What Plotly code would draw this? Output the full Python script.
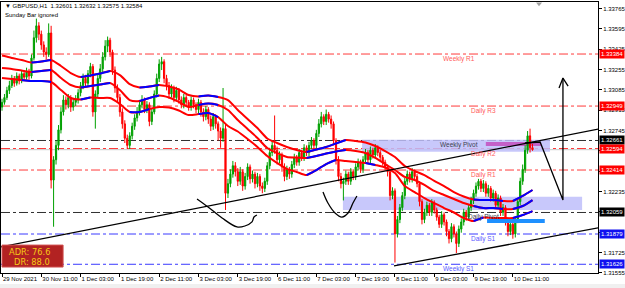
import plotly.graph_objects as go

# ---------------- DATA ----------------
# H1 bars, bar 0 = 29 Nov 2021 19:00; prices in 1/10000 units
opens = [
    13294, 13298, 13302, 13308, 13312, 13318, 13314, 13320, 13316, 13322,
    13319, 13324, 13320, 13335, 13352, 13362, 13355, 13346, 13340, 13338,
    13356, 13233, 13250, 13262, 13275, 13290, 13300, 13296, 13302, 13294,
    13298, 13300, 13306, 13312, 13318, 13314, 13322, 13328, 13290, 13305,
    13318, 13326, 13336, 13345, 13350, 13340, 13325, 13310, 13302, 13290,
    13280, 13268, 13262, 13270, 13278, 13285, 13290, 13296, 13300, 13292,
    13296, 13282, 13290, 13305, 13318, 13330, 13332, 13318, 13312, 13305,
    13310, 13302, 13308, 13300, 13296, 13302, 13298, 13294, 13300, 13296,
    13292, 13298, 13290, 13286, 13292, 13284, 13278, 13286, 13280, 13274,
    13268, 13276, 13222, 13230, 13238, 13245, 13240, 13232, 13240, 13228,
    13236, 13244, 13234, 13238, 13230, 13236, 13228, 13226, 13232, 13245,
    13256, 13262, 13258, 13250, 13254, 13244, 13236, 13242, 13238, 13246,
    13252, 13248, 13256, 13252, 13260, 13256, 13262, 13266, 13262, 13272,
    13280, 13286, 13282, 13288, 13284, 13280, 13266, 13250, 13236, 13230,
    13232, 13238, 13232, 13240, 13236, 13244, 13248, 13242, 13250, 13256,
    13250, 13258, 13254, 13260, 13256, 13252, 13248, 13244, 13240, 13220,
    13224, 13188, 13200, 13210, 13220, 13232, 13238, 13234, 13240, 13236,
    13230, 13215, 13200, 13206, 13212, 13206, 13214, 13208, 13202, 13196,
    13204, 13198, 13190, 13184, 13194, 13188, 13180, 13192, 13198, 13206,
    13202, 13210, 13216, 13222, 13228, 13232, 13226, 13230, 13222, 13226,
    13218, 13222, 13212, 13218, 13206, 13210, 13198, 13190, 13196, 13188,
    13200, 13215, 13232, 13242, 13258, 13270, 13260.1,
]
highs = [
    13301, 13305, 13311, 13316, 13321, 13320, 13323, 13322, 13325, 13324,
    13327, 13326, 13338, 13358, 13368, 13365, 13358, 13349, 13344, 13364,
    13362, 13253, 13266, 13279, 13294, 13304, 13303, 13305, 13304, 13301,
    13304, 13309, 13315, 13322, 13321, 13325, 13331, 13330, 13308, 13322,
    13330, 13340, 13350, 13353, 13352, 13342, 13328, 13313, 13305, 13293,
    13283, 13271, 13273, 13281, 13288, 13294, 13300, 13304, 13302, 13299,
    13298, 13293, 13308, 13322, 13334, 13336, 13334, 13321, 13315, 13313,
    13312, 13311, 13310, 13303, 13305, 13304, 13300, 13303, 13302, 13298,
    13301, 13300, 13293, 13295, 13294, 13287, 13289, 13288, 13282, 13277,
    13310, 13280, 13234, 13242, 13249, 13248, 13243, 13244, 13242, 13239,
    13247, 13246, 13241, 13240, 13239, 13238, 13231, 13235, 13248, 13260,
    13266, 13287, 13261, 13257, 13256, 13247, 13245, 13244, 13249, 13255,
    13254, 13259, 13258, 13263, 13262, 13265, 13269, 13268, 13275, 13284,
    13290, 13288, 13292, 13290, 13287, 13282, 13268, 13253, 13239, 13235,
    13241, 13240, 13243, 13242, 13247, 13251, 13250, 13253, 13259, 13258,
    13261, 13260, 13263, 13262, 13258, 13254, 13250, 13246, 13242, 13227,
    13226, 13203, 13213, 13223, 13235, 13241, 13240, 13243, 13242, 13238,
    13232, 13217, 13209, 13215, 13214, 13217, 13216, 13210, 13204, 13207,
    13206, 13200, 13192, 13197, 13196, 13190, 13195, 13201, 13209, 13208,
    13213, 13219, 13225, 13231, 13234, 13234, 13233, 13232, 13229, 13228,
    13225, 13224, 13221, 13220, 13213, 13212, 13200, 13199, 13198, 13203,
    13218, 13235, 13246, 13262, 13274, 13276, 13263.2,
]
lows = [
    13291, 13296, 13300, 13305, 13310, 13311, 13312, 13313, 13314, 13316,
    13317, 13317, 13318, 13333, 13348, 13350, 13342, 13336, 13334, 13336,
    13226, 13194, 13246, 13258, 13272, 13287, 13292, 13293, 13290, 13291,
    13295, 13297, 13303, 13309, 13311, 13311, 13319, 13286, 13276, 13302,
    13315, 13323, 13333, 13340, 13336, 13321, 13306, 13298, 13286, 13276,
    13264, 13259, 13259, 13267, 13275, 13282, 13287, 13293, 13289, 13289,
    13278, 13279, 13288, 13302, 13315, 13325, 13314, 13308, 13301, 13302,
    13298, 13299, 13297, 13293, 13293, 13295, 13291, 13291, 13293, 13289,
    13289, 13286, 13282, 13283, 13280, 13274, 13275, 13276, 13266, 13260,
    13265, 13208, 13218, 13227, 13235, 13236, 13228, 13229, 13224, 13225,
    13233, 13230, 13231, 13226, 13227, 13224, 13222, 13223, 13229, 13242,
    13253, 13255, 13246, 13247, 13240, 13232, 13233, 13234, 13235, 13243,
    13245, 13245, 13249, 13249, 13253, 13253, 13259, 13259, 13259, 13269,
    13277, 13279, 13279, 13281, 13276, 13262, 13246, 13232, 13226, 13216,
    13229, 13229, 13229, 13233, 13233, 13241, 13239, 13239, 13247, 13247,
    13247, 13251, 13251, 13253, 13249, 13245, 13241, 13236, 13216, 13217,
    13164, 13185, 13197, 13207, 13217, 13229, 13231, 13231, 13233, 13227,
    13211, 13196, 13197, 13203, 13203, 13203, 13205, 13199, 13193, 13193,
    13195, 13186, 13180, 13181, 13185, 13172, 13177, 13189, 13195, 13199,
    13199, 13207, 13213, 13219, 13225, 13223, 13223, 13219, 13219, 13215,
    13215, 13209, 13209, 13203, 13203, 13195, 13186, 13187, 13184, 13185,
    13197, 13212, 13229, 13239, 13255, 13256, 13257.5,
]
closes = [
    13298, 13302, 13308, 13312, 13318, 13314, 13320, 13316, 13322, 13319,
    13324, 13320, 13335, 13352, 13362, 13355, 13346, 13340, 13338, 13356,
    13233, 13250, 13262, 13275, 13290, 13300, 13296, 13302, 13294, 13298,
    13300, 13306, 13312, 13318, 13314, 13322, 13328, 13290, 13305, 13318,
    13326, 13336, 13345, 13350, 13340, 13325, 13310, 13302, 13290, 13280,
    13268, 13262, 13270, 13278, 13285, 13290, 13296, 13300, 13292, 13296,
    13282, 13290, 13305, 13318, 13330, 13332, 13318, 13312, 13305, 13310,
    13302, 13308, 13300, 13296, 13302, 13298, 13294, 13300, 13296, 13292,
    13298, 13290, 13286, 13292, 13284, 13278, 13286, 13280, 13274, 13268,
    13276, 13222, 13230, 13238, 13245, 13240, 13232, 13240, 13228, 13236,
    13244, 13234, 13238, 13230, 13236, 13228, 13226, 13232, 13245, 13256,
    13262, 13258, 13250, 13254, 13244, 13236, 13242, 13238, 13246, 13252,
    13248, 13256, 13252, 13260, 13256, 13262, 13266, 13262, 13272, 13280,
    13286, 13282, 13288, 13284, 13280, 13266, 13250, 13236, 13230, 13232,
    13238, 13232, 13240, 13236, 13244, 13248, 13242, 13250, 13256, 13250,
    13258, 13254, 13260, 13256, 13252, 13248, 13244, 13240, 13220, 13224,
    13188, 13200, 13210, 13220, 13232, 13238, 13234, 13240, 13236, 13230,
    13215, 13200, 13206, 13212, 13206, 13214, 13208, 13202, 13196, 13204,
    13198, 13190, 13184, 13194, 13188, 13180, 13192, 13198, 13206, 13202,
    13210, 13216, 13222, 13228, 13232, 13226, 13230, 13222, 13226, 13218,
    13222, 13212, 13218, 13206, 13210, 13198, 13190, 13196, 13188, 13200,
    13215, 13232, 13242, 13258, 13270, 13260.1, 13258.4,
]

# moving-average envelope lines, sampled every 4 bars (1/10000 units)
ma_step = 4
ma_top = [
    13337.1, 13335.1, 13333.4, 13331.3, 13332.1, 13333.4, 13328.4, 13322.5, 13319.2, 13320.4,
    13322.1, 13324.2, 13320.8, 13313.3, 13310.4, 13311.2, 13312.5, 13311.2, 13308.7, 13304.1,
    13302.9, 13303.7, 13302.5, 13299.9, 13291.6, 13284.1, 13276.5, 13267.8, 13264.0, 13260.7,
    13258.1, 13256.5, 13258.6, 13260.7, 13263.6, 13266.5, 13265.7, 13264.4, 13261.5, 13257.3,
    13252.3, 13244.8, 13240.6, 13237.2, 13232.3, 13228.0, 13223.0, 13219.3, 13216.8, 13216.3,
    13216.3, 13215.5, 13215.5, 13219.7, 13224.7,
]
ma_mid = [
    13326.7, 13325.9, 13324.6, 13323.4, 13324.2, 13325.0, 13318.3, 13312.5, 13310.4, 13311.6,
    13312.9, 13314.2, 13308.3, 13299.9, 13299.1, 13301.6, 13303.7, 13302.0, 13298.3, 13294.1,
    13295.8, 13297.0, 13295.8, 13291.6, 13283.2, 13275.7, 13268.2, 13259.8, 13255.6, 13252.3,
    13251.9, 13251.5, 13253.1, 13255.2, 13256.9, 13258.1, 13257.3, 13255.6, 13251.5, 13246.4,
    13241.4, 13235.6, 13233.1, 13228.9, 13223.9, 13220.5, 13217.2, 13213.8, 13211.3, 13209.6,
    13209.6, 13208.8, 13208.8, 13211.3, 13216.3,
]
ma_bot = [
    13318.3, 13317.5, 13316.7, 13315.8, 13315.8, 13315.0, 13308.3, 13301.6, 13300.4, 13302.0,
    13301.6, 13301.6, 13296.6, 13289.9, 13289.9, 13292.4, 13294.1, 13293.7, 13291.2, 13287.4,
    13288.2, 13289.1, 13285.7, 13278.2, 13273.6, 13267.3, 13260.7, 13253.1, 13247.3, 13242.3,
    13239.8, 13237.2, 13241.4, 13246.4, 13249.8, 13248.9, 13248.1, 13247.3, 13245.6, 13243.5,
    13238.9, 13228.0, 13223.0, 13218.0, 13213.8, 13209.6, 13205.9, 13201.3, 13198.8, 13201.7,
    13201.3, 13201.3, 13201.3, 13203.8, 13207.1,
]
# bar ranges where each line is rising (drawn blue)
top_rising = [(12, 20), (32, 44), (56, 64), (80, 88), (124, 140), (192, 204), (208, 216)]
mid_rising = [(12, 20), (32, 44), (56, 64), (80, 88), (124, 140), (192, 204), (208, 216)]
bot_rising = [(8, 20), (32, 36), (52, 60), (80, 88), (124, 136), (148, 152), (192, 196), (208, 216)]

# pivot levels
levels = [1.33384, 1.32949, 1.32661, 1.32594, 1.32414, 1.32059, 1.31879, 1.31626]
level_names = ["Weekly R1", "Daily R3", "Weekly Pivot", "Daily R2", "Daily R1",
               "Daily Pivot", "Daily S1", "Weekly S1"]
level_kind = ["R", "R", "P", "R", "R", "P", "S", "S"]
bid_price = 1.32584

x_tick_bars = [0, 16, 32, 48, 64, 80, 96, 112, 128, 144, 160, 176, 192, 208]
x_tick_labels = ["29 Nov 2021", "30 Nov 11:00", "1 Dec 03:00", "1 Dec 19:00", "2 Dec 11:00",
                 "3 Dec 03:00", "3 Dec 19:00", "6 Dec 11:00", "7 Dec 03:00", "7 Dec 19:00",
                 "8 Dec 11:00", "9 Dec 03:00", "9 Dec 19:00", "10 Dec 11:00"]
y_ticks = [1.33765, 1.33595, 1.33425, 1.33255, 1.33085, 1.32915, 1.32745, 1.32575,
           1.32405, 1.32235, 1.32065, 1.31895, 1.31725, 1.31555]

# user drawings (bar index, price)
trend_up_bars = [-1, 243]
trend_up_prices = [1.31769, 1.32758]
trend_low_bars = [159.6, 243]
trend_low_prices = [1.31612, 1.31932]
arc1_bars = [79.4, 83.9, 89.6, 95.7, 98.9, 101.8, 102.6, 103.8]
arc1_prices = [1.32172, 1.32105, 1.32013, 1.31938, 1.31946, 1.31980, 1.32021, 1.32038]
arc2_bars = [130.7, 132.7, 135.6, 138.4, 140.9, 142.9, 144.5]
arc2_prices = [1.32230, 1.32138, 1.32055, 1.32021, 1.32055, 1.32138, 1.32197]
path_bars = [212.9, 219.1, 228.4, 228.4]
path_prices = [1.32640, 1.32648, 1.32163, 1.33183]
head_bars = [226.8, 228.4, 230.5]
head_prices = [1.33100, 1.33183, 1.33116]
zone_upper = (146.6, 223.1, 1.32567, 1.32668)
zone_lower = (138.8, 236.2, 1.32080, 1.32191)
zone_magenta = (197.0, 219.5, 1.32615, 1.32648)
zone_blue = (197.5, 221.0, 1.31971, 1.32005)

adr_text = "ADR: 76.6"
dr_text = "DR: 88.0"
title_text = "\u25BC GBPUSD,H1  1.32601 1.32632 1.32575 1.32584"
subtitle_text = "Sunday Bar ignored"

# ---------------- FIGURE ----------------
SC = 10000.0
FONT = "Liberation Sans, Arial, sans-serif"
bars = list(range(len(closes)))
ma_bars = [i * ma_step for i in range(len(ma_top))]

fig = go.Figure()

shapes = []
for (x0, x1, y0, y1), col in [(zone_upper, "rgba(190,190,250,0.85)"),
                              (zone_lower, "rgba(190,190,250,0.85)"),
                              (zone_magenta, "rgb(196,96,200)")]:
    shapes.append(dict(type="rect", xref="x", yref="y", x0=x0, x1=x1, y0=y0, y1=y1,
                       fillcolor=col, line=dict(width=0), layer="below"))

kind_color = {"R": "#FF3A3A", "P": "#303030", "S": "#3A3AFF"}
label_color = {"R": "#FF5A5A", "P": "#404050", "S": "#5A5AFF"}
box_color = {"R": "#FF0000", "P": "#000000", "S": "#1010F0"}
for lvl, kind in zip(levels, level_kind):
    shapes.append(dict(type="line", xref="paper", yref="y", x0=0, x1=1, y0=lvl, y1=lvl,
                       line=dict(color=kind_color[kind], width=1, dash="dashdot"), layer="below"))
shapes.append(dict(type="line", xref="paper", yref="y", x0=0, x1=1, y0=bid_price, y1=bid_price,
                   line=dict(color="#C8C8C8", width=1), layer="below"))

fig.add_trace(go.Candlestick(
    x=bars,
    open=[v / SC for v in opens], high=[v / SC for v in highs],
    low=[v / SC for v in lows], close=[v / SC for v in closes],
    increasing=dict(line=dict(color="#00A000", width=1), fillcolor="#00A000"),
    decreasing=dict(line=dict(color="#FF0000", width=1), fillcolor="#FF0000"),
    whiskerwidth=0, showlegend=False, hoverinfo="skip"))

for vals, rising in [(ma_top, top_rising), (ma_mid, mid_rising), (ma_bot, bot_rising)]:
    fig.add_trace(go.Scatter(x=ma_bars, y=[v / SC for v in vals], mode="lines",
                             line=dict(color="#FF0000", width=2.0, shape="spline", smoothing=0.7),
                             showlegend=False, hoverinfo="skip"))
    for a, b in rising:
        idx = [i for i, k in enumerate(ma_bars) if a <= k <= b]
        fig.add_trace(go.Scatter(x=[ma_bars[i] for i in idx], y=[vals[i] / SC for i in idx],
                                 mode="lines",
                                 line=dict(color="#0000FF", width=2.0, shape="spline", smoothing=0.7),
                                 showlegend=False, hoverinfo="skip"))

for xs, ys, shp in [(trend_up_bars, trend_up_prices, "linear"),
                    (trend_low_bars, trend_low_prices, "linear"),
                    (arc1_bars, arc1_prices, "spline"),
                    (arc2_bars, arc2_prices, "spline"),
                    (path_bars, path_prices, "linear"),
                    (head_bars, head_prices, "linear")]:
    fig.add_trace(go.Scatter(x=xs, y=ys, mode="lines",
                             line=dict(color="black", width=1.3, shape=shp),
                             showlegend=False, hoverinfo="skip"))

x0, x1, y0, y1 = zone_blue
shapes.append(dict(type="rect", xref="x", yref="y", x0=x0, x1=x1, y0=y0, y1=y1,
                   fillcolor="#1E90FF", line=dict(width=0), layer="above"))

shapes.append(dict(type="rect", xref="paper", yref="paper", x0=0.0017, x1=0.104, y0=0.022, y1=0.103,
                   fillcolor="#B22222", line=dict(color="#D05050", width=1), layer="above"))
shapes.append(dict(type="rect", xref="paper", yref="paper", x0=-0.01, x1=1.06, y0=-0.062, y1=-0.041,
                   fillcolor="#F0F0F0", line=dict(width=0), layer="above"))
shapes.append(dict(type="path", xref="paper", yref="paper",
                   path="M 0.8962 0.998 L 0.9062 0.998 L 0.9012 0.984 Z",
                   fillcolor="#A0A0A0", line=dict(width=0), layer="above"))

annotations = []
label_bar = {"W": 186, "D": 196}
for lvl, name, kind in zip(levels, level_names, level_kind):
    annotations.append(dict(x=label_bar[name[0]], y=lvl, xref="x", yref="y", text=name,
                            showarrow=False, yshift=-5, font=dict(family=FONT, size=6.5,
                                                                  color=label_color[kind])))
    annotations.append(dict(x=1, y=lvl, xref="paper", yref="y", text=f"{lvl:.5f}",
                            showarrow=False, xanchor="left", xshift=1,
                            font=dict(family=FONT, size=6, color="white"),
                            bgcolor=box_color[kind], borderpad=1))
annotations.append(dict(x=0.0034, y=0.985, xref="paper", yref="paper", text=title_text,
                        showarrow=False, xanchor="left", yanchor="middle",
                        font=dict(family=FONT, size=6, color="black")))
annotations.append(dict(x=0.0034, y=0.952, xref="paper", yref="paper", text=subtitle_text,
                        showarrow=False, xanchor="left", yanchor="middle",
                        font=dict(family=FONT, size=6, color="black")))
ADR_FONT = "DejaVu Sans, sans-serif"
annotations.append(dict(x=0.083, y=0.078, xref="paper", yref="paper", text=adr_text,
                        showarrow=False, xanchor="right", yanchor="middle", borderpad=0,
                        font=dict(family=ADR_FONT, size=8.3, color="#F5C816")))
annotations.append(dict(x=0.083, y=0.039, xref="paper", yref="paper", text=dr_text,
                        showarrow=False, xanchor="right", yanchor="middle", borderpad=0,
                        font=dict(family=ADR_FONT, size=8.3, color="#F5C816")))


def hidden(v):
    # tick labels fully covered by a level box are hidden in the reference
    return any(abs(v - lvl) < 0.00025 for lvl in levels)


fig.update_layout(
    width=625, height=288,
    margin=dict(l=1, r=27, t=2, b=15),
    paper_bgcolor="white", plot_bgcolor="white",
    showlegend=False,
    font=dict(family=FONT, size=6, color="black"),
    shapes=shapes, annotations=annotations,
    xaxis=dict(range=[-0.41, 242.67], tickvals=x_tick_bars, ticktext=x_tick_labels,
               showgrid=False, zeroline=False, showline=True, linecolor="#000000", linewidth=1,
               mirror=True, ticks="outside", ticklen=3, tickcolor="black", tickangle=0,
               ticklabelposition="outside right", tickfont=dict(family=FONT, size=6),
               rangeslider=dict(visible=False), fixedrange=True, automargin=False),
    yaxis=dict(side="right", range=[1.31553, 1.33819], tickvals=y_ticks,
               ticktext=["" if hidden(v) else f"{v:.5f}" for v in y_ticks],
               showgrid=False, zeroline=False, showline=True, linecolor="#000000", linewidth=1,
               mirror=True, ticks="outside", ticklen=3, tickcolor="black",
               tickfont=dict(family=FONT, size=6), fixedrange=True, automargin=False),
)

fig.write_html("out.html")
